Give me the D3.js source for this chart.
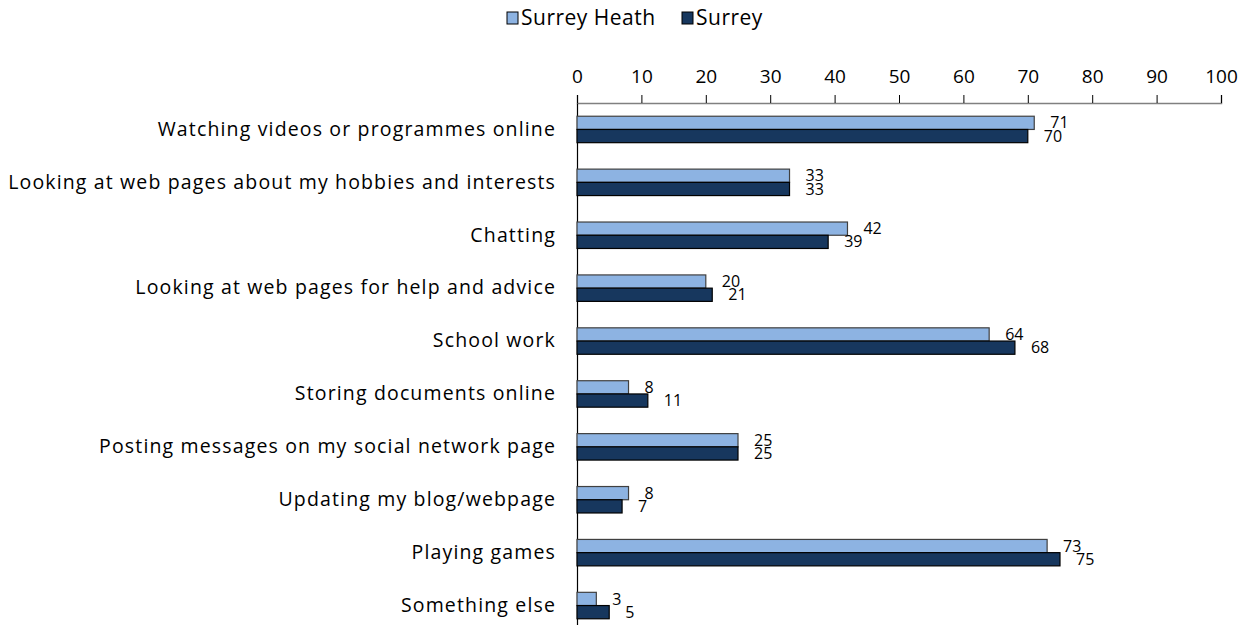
<!DOCTYPE html>
<html><head><meta charset="utf-8">
<script src="https://cdn.jsdelivr.net/npm/d3@7"></script>
<style>body{margin:0;background:#fff}</style>
</head><body>
<svg id="c" width="1252" height="625"></svg>
<script>
const categories = ["Watching videos or programmes online","Looking at web pages about my hobbies and interests","Chatting","Looking at web pages for help and advice","School work","Storing documents online","Posting messages on my social network page","Updating my blog/webpage","Playing games","Something else"];
const seriesNames = ["Surrey Heath","Surrey"];
const heathValues = [71,33,42,20,64,8,25,8,73,3];
const surreyValues = [70,33,39,21,68,11,25,7,75,5];
const tickValues = [0,10,20,30,40,50,60,70,80,90,100];
const colors = ["#8DB3E2","#17375E"];
const FONT = "'Open Sans', Lato, sans-serif";

const svg = d3.select("#c");
const x = d3.scaleLinear().domain([0,100]).range([577,1221]);
const y = d3.scaleBand().domain(categories).range([103,632]).paddingInner(0.5).paddingOuter(0.25);
const ys = d3.scaleBand().domain(seriesNames).range([0,y.bandwidth()]);

// x axis at top
const xa = svg.append("g").attr("transform","translate(0,103)")
  .call(d3.axisTop(x).tickValues(tickValues).tickSize(8).tickPadding(12).tickFormat(d3.format("d")));
xa.select(".domain").attr("stroke","#808080").attr("stroke-width",1.5);
xa.selectAll(".tick line").attr("stroke","#000");
xa.selectAll("text").attr("font-family",FONT).attr("font-size",19).attr("fill","#000");

// y axis
const ya = svg.append("g").attr("transform","translate(577,0)")
  .call(d3.axisLeft(y).tickSize(0).tickPadding(21));
ya.select(".domain").attr("stroke","#000").attr("stroke-width",1.2);
ya.selectAll("text").attr("font-family",FONT).attr("font-size",19.5).attr("letter-spacing","1.15px").attr("fill","#000");

const data = categories.map((c,i)=>({c, vals:[heathValues[i], surreyValues[i]]}));
const g = svg.append("g").selectAll("g").data(data).join("g")
  .attr("transform",d=>`translate(0,${y(d.c)})`);
g.selectAll("rect").data(d=>d.vals.map((v,k)=>({v,k}))).join("rect")
  .attr("x",x(0)).attr("y",d=>ys(seriesNames[d.k]))
  .attr("width",d=>x(d.v)-x(0)).attr("height",ys.bandwidth())
  .attr("fill",d=>colors[d.k]).attr("stroke",d=>d.k===0?"#404040":"#000").attr("stroke-width",1.2);
g.selectAll("text").data(d=>d.vals.map((v,k)=>({v,k}))).join("text")
  .attr("x",d=>x(d.v)+16).attr("y",d=>ys(seriesNames[d.k])+ys.bandwidth()/2)
  .attr("dy","0.35em").attr("font-family",FONT).attr("font-size",16).attr("fill","#000")
  .text(d=>d.v);

// legend
const leg = svg.append("g").attr("transform","translate(507,12)");
const legX = [0,175];
seriesNames.forEach((s,k)=>{
  const lg = leg.append("g").attr("transform",`translate(${legX[k]},0)`);
  lg.append("rect").attr("width",11).attr("height",12).attr("fill",colors[k]).attr("stroke","#000").attr("stroke-width",1);
  lg.append("text").attr("x",14).attr("y",6).attr("dy","0.35em").attr("font-family",FONT).attr("font-size",21).attr("letter-spacing","0.5px").attr("fill","#000").text(s);
});
</script>
</body></html>
